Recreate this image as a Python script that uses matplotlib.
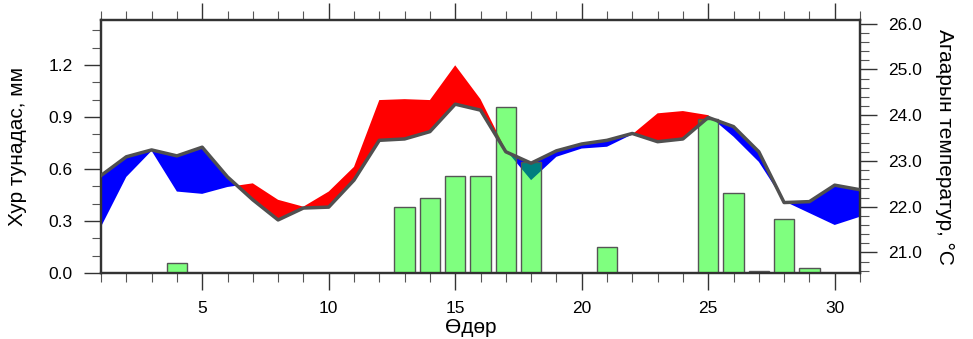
import matplotlib.pyplot as plt
import numpy as np

plt.rcParams['font.family'] = ['Liberation Sans', 'DejaVu Sans']

# daily data for one month
days = np.arange(1, 32)
precip_days = [4, 13, 14, 15, 16, 17, 18, 21, 25, 26, 27, 28, 29]
precip = [0.06, 0.38, 0.43, 0.56, 0.56, 0.96, 0.64, 0.15, 0.89, 0.46, 0.01, 0.31, 0.03]

# observed air temperature (gray line)
temp_obs = [22.68, 23.09, 23.24, 23.11, 23.30, 22.65, 22.15, 21.71, 21.97, 21.99,
            22.58, 23.45, 23.48, 23.64, 24.24, 24.11, 23.20, 22.95, 23.22, 23.37,
            23.45, 23.60, 23.42, 23.48, 23.95, 23.75, 23.20, 22.09, 22.11, 22.47, 22.37]
# second temperature series (fill edge)
temp_ref = [21.56, 22.65, 23.22, 22.33, 22.28, 22.43, 22.51, 22.15, 22.00, 22.33,
            22.87, 24.33, 24.35, 24.33, 25.09, 24.35, 23.24, 22.58, 23.09, 23.27,
            23.31, 23.58, 24.04, 24.09, 24.00, 23.53, 22.98, 22.12, 21.86, 21.60, 21.78]

temp_obs = np.array(temp_obs)
temp_ref = np.array(temp_ref)

fig = plt.figure(figsize=(9.73, 3.39), dpi=100)
ax = fig.add_axes([101 / 973, 1 - 273 / 339, 759 / 973, 253 / 339])

# temperature fills
ax.fill_between(days, temp_obs, temp_ref, where=temp_ref >= temp_obs,
                interpolate=True, color='#ff0000', lw=0)
ax.fill_between(days, temp_obs, temp_ref, where=temp_ref <= temp_obs,
                interpolate=True, color='#0000ff', lw=0)

# precipitation bars on top, half transparent
ax_p = ax.twinx()
ax_p.bar(precip_days, precip, width=0.8, facecolor=(0, 1, 0, 0.5),
         edgecolor='#555555', linewidth=1.0)

# gray line on top of everything
ax_l = ax.twinx()
ax_l.plot(days, temp_obs, color='#505050', lw=2.5, solid_joinstyle='round')

ax.set_xlim(1, 31)
ax.set_ylim(20.55, 26.08)
ax_l.set_ylim(20.55, 26.08)
ax_p.set_ylim(0, 1.46)
ax_l.axis('off')

ax.yaxis.tick_right()
ax.yaxis.set_label_position('right')
ax_p.yaxis.tick_left()
ax_p.yaxis.set_label_position('left')

ax.set_xticks([5, 10, 15, 20, 25, 30])
ax.set_xticks(np.arange(1, 32), minor=True)
ax.set_yticks([21, 22, 23, 24, 25, 26])
ax.set_yticks(np.arange(20.6, 26.1, 0.2), minor=True)
ax.set_yticklabels(['21.0', '22.0', '23.0', '24.0', '25.0', '26.0'])
ax_p.set_yticks([0, 0.3, 0.6, 0.9, 1.2])
ax_p.set_yticks(np.arange(0, 1.45, 0.1), minor=True)
ax_p.set_yticklabels(['0.0', '0.3', '0.6', '0.9', '1.2'])

for a in (ax, ax_p):
    a.tick_params(which='major', direction='out', length=12.5, width=1.0,
                  colors='#333333', labelcolor='black', labelsize=12.5, pad=8)
    a.tick_params(which='minor', direction='out', length=6.5, width=0.8,
                  colors='#555555')
ax.tick_params(axis='x', which='both', top=True, bottom=True)
ax.tick_params(axis='x', which='major', pad=8)

for a in (ax, ax_p, ax_l):
    for s in a.spines.values():
        s.set_linewidth(1.6)
        s.set_color('#333333')

ax.set_xlabel('Өдөр', fontsize=15, labelpad=0)
ax.xaxis.set_label_coords(0.487, -0.178)
ax.set_ylabel('Агаарын температур, °C', fontsize=15, rotation=270, labelpad=0)
ax.yaxis.set_label_coords(1.124, 0.5)
ax_p.set_ylabel('Хур тунадас, мм', fontsize=15)
ax_p.yaxis.set_label_coords(-0.098, 0.5)

fig.savefig('out.png', dpi=100)
